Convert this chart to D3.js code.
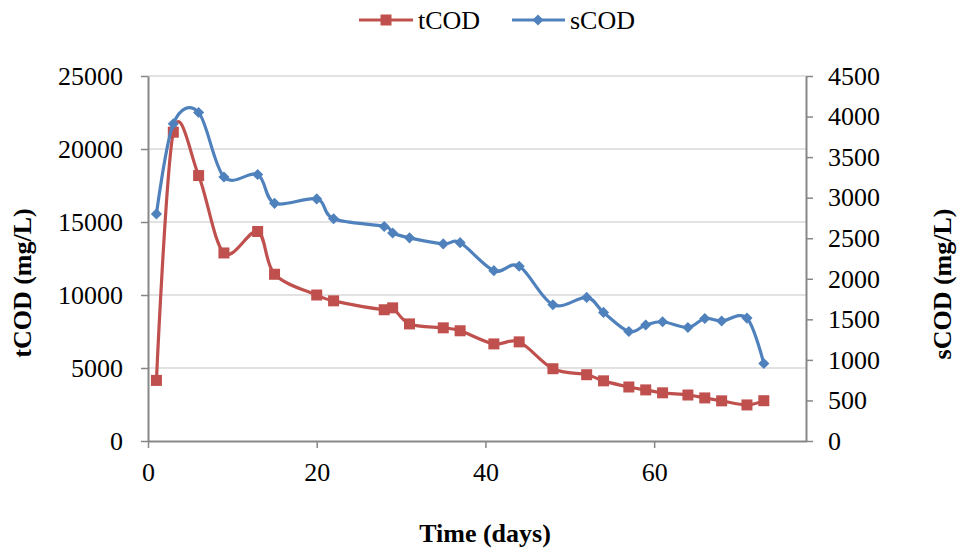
<!DOCTYPE html>
<html>
<head>
	<meta charset="utf-8">
	<script src="https://d3js.org/d3.v7.min.js"></script>
	<title>tCOD and sCOD</title>
	<style>
		body { margin: 0; background: #fff; }
		text { font-family: "Liberation Serif", "Times New Roman", serif; fill: #000; }
	</style>
</head>
<body>
	<div id="chart"></div>

	<script type="text/javascript">

		// days of sampling
		var days = [1, 3, 6, 9, 13, 15, 20, 22, 28, 29, 31, 35, 37, 41, 44, 48, 52, 54, 57, 59, 61, 64, 66, 68, 71, 73];

		// total COD (mg/L), left axis
		var tCOD = [4150, 21150, 18180, 12880, 14350, 11420, 10000, 9600, 8990, 9120, 8020, 7750, 7550, 6650, 6790, 4950, 4540, 4120, 3700, 3500, 3300, 3150, 2950, 2750, 2470, 2760];

		// soluble COD (mg/L), right axis
		var sCOD = [2800, 3910, 4050, 3255, 3285, 2930, 2985, 2740, 2645, 2565, 2505, 2430, 2445, 2100, 2155, 1680, 1770, 1585, 1350, 1430, 1470, 1400, 1510, 1480, 1515, 955];

		var xTicks = [0, 20, 40, 60];
		var leftTicks = [0, 5000, 10000, 15000, 20000, 25000];
		var rightTicks = [0, 500, 1000, 1500, 2000, 2500, 3000, 3500, 4000, 4500];

		var width = 957, height = 549;
		// plot area edges (window.top is reserved, so prefixed names)
		var plotLeft = 148, plotRight = 806, plotTop = 76, plotBottom = 441;
		var red = "#C0504D", blue = "#4F81BD", axisGray = "#878787";
		var fontSize = "26px";

		var svg = d3.select("#chart").append("svg")
			.attr("width", width)
			.attr("height", height);

		var xScale = d3.scaleLinear().domain([0, 78]).range([plotLeft, plotRight]);
		var yLeft = d3.scaleLinear().domain([0, 25000]).range([plotBottom, plotTop]);
		var yRight = d3.scaleLinear().domain([0, 4500]).range([plotBottom, plotTop]);

		// gridlines
		svg.selectAll(".grid")
			.data(leftTicks.filter(function(t){ return t > 0; }))
			.enter().append("line")
			.attr("class", "grid")
			.attr("x1", plotLeft).attr("x2", plotRight)
			.attr("y1", function(d){ return yLeft(d); })
			.attr("y2", function(d){ return yLeft(d); })
			.attr("stroke", "#D9D9D9")
			.attr("stroke-width", 1.5);

		function styleAxis(g){
			g.selectAll("path, line").attr("stroke", axisGray).attr("stroke-width", 1.5);
			g.selectAll("text").style("font-size", fontSize).attr("fill", "#000");
			g.select(".domain").attr("stroke-width", 2);
		}

		svg.append("g")
			.attr("transform", "translate(" + plotLeft + ",0)")
			.call(d3.axisLeft(yLeft).tickValues(leftTicks).tickSize(7).tickSizeOuter(0).tickPadding(18).tickFormat(d3.format("d")))
			.call(styleAxis);

		svg.append("g")
			.attr("transform", "translate(" + plotRight + ",0)")
			.call(d3.axisRight(yRight).tickValues(rightTicks).tickSize(7).tickSizeOuter(0).tickPadding(15).tickFormat(d3.format("d")))
			.call(styleAxis);

		svg.append("g")
			.attr("transform", "translate(0," + plotBottom + ")")
			.call(d3.axisBottom(xScale).tickValues(xTicks).tickSize(7).tickSizeOuter(0).tickPadding(15))
			.call(styleAxis);

		// series
		var tData = days.map(function(d, i){ return {x: d, y: tCOD[i]}; });
		var sData = days.map(function(d, i){ return {x: d, y: sCOD[i]}; });

		var tLine = d3.line()
			.x(function(d){ return xScale(d.x); })
			.y(function(d){ return yLeft(d.y); })
			.curve(d3.curveCatmullRom.alpha(0));

		var sLine = d3.line()
			.x(function(d){ return xScale(d.x); })
			.y(function(d){ return yRight(d.y); })
			.curve(d3.curveCatmullRom.alpha(0));

		svg.append("path").datum(tData)
			.attr("d", tLine)
			.attr("fill", "none").attr("stroke", red).attr("stroke-width", 3.2);

		svg.selectAll(".tmark").data(tData).enter().append("rect")
			.attr("class", "tmark")
			.attr("x", function(d){ return xScale(d.x) - 5.5; })
			.attr("y", function(d){ return yLeft(d.y) - 5.5; })
			.attr("width", 11).attr("height", 11)
			.attr("fill", red);

		svg.append("path").datum(sData)
			.attr("d", sLine)
			.attr("fill", "none").attr("stroke", blue).attr("stroke-width", 3.2);

		var diamond = d3.symbol().type(d3.symbolSquare).size(62);

		svg.selectAll(".smark").data(sData).enter().append("path")
			.attr("class", "smark")
			.attr("d", diamond)
			.attr("transform", function(d){ return "translate(" + xScale(d.x) + "," + yRight(d.y) + ") rotate(45)"; })
			.attr("fill", blue);

		// axis titles
		svg.append("text")
			.attr("transform", "translate(31,283) rotate(-90)")
			.attr("text-anchor", "middle")
			.style("font-size", fontSize).style("font-weight", "bold")
			.text("tCOD (mg/L)");

		svg.append("text")
			.attr("transform", "translate(951,284) rotate(-90)")
			.attr("text-anchor", "middle")
			.style("font-size", fontSize).style("font-weight", "bold")
			.text("sCOD (mg/L)");

		svg.append("text")
			.attr("x", 485).attr("y", 542)
			.attr("text-anchor", "middle")
			.style("font-size", fontSize).style("font-weight", "bold")
			.text("Time (days)");

		// legend
		var legend = svg.append("g");
		legend.append("line").attr("x1", 359).attr("x2", 413).attr("y1", 20).attr("y2", 20)
			.attr("stroke", red).attr("stroke-width", 3.2);
		legend.append("rect").attr("x", 380.5).attr("y", 14.5).attr("width", 11).attr("height", 11).attr("fill", red);
		legend.append("text").attr("x", 418).attr("y", 29).style("font-size", fontSize).text("tCOD");

		legend.append("line").attr("x1", 512).attr("x2", 565).attr("y1", 20).attr("y2", 20)
			.attr("stroke", blue).attr("stroke-width", 3.2);
		legend.append("path").attr("d", diamond).attr("transform", "translate(538,20) rotate(45)").attr("fill", blue);
		legend.append("text").attr("x", 570).attr("y", 29).style("font-size", fontSize).text("sCOD");

	</script>
</body>
</html>
